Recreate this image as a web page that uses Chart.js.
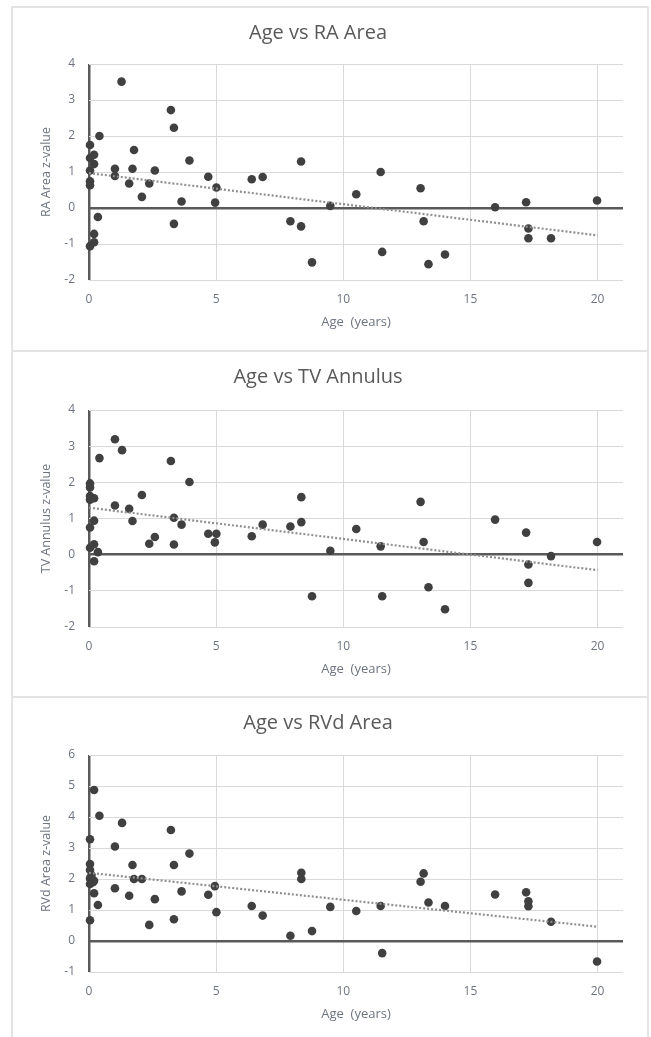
<!DOCTYPE html>
<html>
<head>
<meta charset="utf-8">
<script src="https://cdn.jsdelivr.net/npm/chart.js@4.4.0/dist/chart.umd.min.js"></script>
<style>
  body { margin: 0; background: #fff; width: 651px; height: 1037px; overflow: hidden; position: relative; }
  .panel { position: absolute; left: 11px; width: 638px; border: 2px solid #e4e4e4; box-sizing: border-box; background: #fff; }
  .panel canvas { display: block; }
</style>
</head>
<body>
<div class="panel" style="top:6px;height:346px"><canvas id="raChart" width="634" height="342"></canvas></div>
<div class="panel" style="top:350px;height:348px"><canvas id="tvChart" width="634" height="344"></canvas></div>
<div class="panel" style="top:696px;height:348px"><canvas id="rvdChart" width="634" height="344"></canvas></div>
<script>
//Age vs RA Area --> punti
const raAge = [0.04, 0.04, 0.04, 0.04, 0.04, 0.04, 0.2, 0.2, 0.2, 0.2, 0.35, 0.41, 1.02, 1.02, 1.28, 1.58, 1.71, 1.77, 2.08, 2.37, 2.59, 3.22, 3.34, 3.34, 3.64, 3.95, 4.69, 4.96, 5.01, 6.4, 6.83, 7.92, 8.34, 8.34, 8.77, 9.49, 10.51, 11.47, 11.53, 13.04, 13.16, 13.35, 14.0, 15.97, 17.19, 17.28, 17.28, 18.17, 19.98];
const raZ = [1.75, 1.39, 1.04, 0.74, 0.63, -1.06, 1.48, 1.22, -0.72, -0.95, -0.25, 2.0, 1.09, 0.89, 3.51, 0.68, 1.09, 1.61, 0.31, 0.68, 1.04, 2.72, 2.23, -0.44, 0.18, 1.32, 0.87, 0.15, 0.57, 0.8, 0.86, -0.37, 1.29, -0.51, -1.51, 0.06, 0.38, 1.0, -1.22, 0.55, -0.37, -1.56, -1.29, 0.02, 0.16, -0.57, -0.84, -0.84, 0.21];
const raTrend = [0.97, -0.76];

//Age vs TV Annulus
const tvAge = [0.04, 0.04, 0.04, 0.04, 0.04, 0.04, 0.2, 0.2, 0.2, 0.2, 0.35, 0.41, 1.02, 1.02, 1.3, 1.58, 1.71, 2.08, 2.37, 2.59, 3.22, 3.34, 3.34, 3.64, 3.95, 4.69, 4.95, 5.01, 6.4, 6.83, 7.92, 8.35, 8.35, 8.77, 9.49, 10.51, 11.47, 11.53, 13.04, 13.16, 13.35, 14.0, 15.97, 17.19, 17.28, 17.28, 18.17, 19.98];
const tvZ = [1.97, 1.86, 1.62, 1.52, 0.75, 0.19, 1.56, 0.94, 0.29, -0.18, 0.07, 2.67, 3.19, 1.36, 2.89, 1.27, 0.93, 1.65, 0.3, 0.49, 2.59, 1.02, 0.28, 0.83, 2.01, 0.58, 0.34, 0.58, 0.51, 0.83, 0.78, 1.59, 0.9, -1.15, 0.11, 0.71, 0.23, -1.15, 1.46, 0.35, -0.9, -1.51, 0.97, 0.61, -0.27, -0.78, -0.04, 0.35];
const tvTrend = [1.3, -0.43];

//Age vs RVd Area
const rvdAge = [0.04, 0.04, 0.04, 0.04, 0.04, 0.04, 0.1, 0.15, 0.2, 0.2, 0.2, 0.35, 0.41, 1.02, 1.02, 1.3, 1.58, 1.71, 1.77, 2.08, 2.37, 2.59, 3.22, 3.34, 3.34, 3.64, 3.95, 4.69, 4.95, 5.01, 6.4, 6.83, 7.92, 8.35, 8.35, 8.77, 9.49, 10.51, 11.47, 11.53, 13.04, 13.16, 13.35, 14.0, 15.97, 17.19, 17.28, 17.28, 18.17, 19.98];
const rvdZ = [3.28, 2.48, 2.29, 2.02, 1.84, 0.67, 2.13, 1.9, 4.87, 1.94, 1.54, 1.16, 4.04, 3.05, 1.7, 3.81, 1.46, 2.45, 2.0, 2.0, 0.52, 1.35, 3.58, 2.45, 0.7, 1.6, 2.82, 1.49, 1.77, 0.93, 1.13, 0.82, 0.17, 2.2, 2.0, 0.32, 1.1, 0.97, 1.13, -0.39, 1.91, 2.18, 1.24, 1.13, 1.5, 1.57, 1.28, 1.12, 0.62, -0.66];
const rvdTrend = [2.2, 0.46];

const trendAge = [0, 20];
const xTicks = [0, 5, 10, 15, 20];

const FONT = "'Open Sans', Lato, sans-serif";
const TEXT = "#6d7480";

function makeChart(id, title, yTitle, ages, zs, trend, yMin, yMax, top, bottom) {
  const canvas = document.getElementById(id);
  const H = canvas.height;
  const points = ages.map((a, i) => ({ x: a, y: zs[i] }));
  const line = trendAge.map((a, i) => ({ x: a, y: trend[i] }));
  const config = {
    type: "scatter",
    data: {
      datasets: [
        {
          label: "trend",
          type: "line",
          data: line,
          borderColor: "#8f8f8f",
          borderWidth: 2.2,
          borderDash: [2, 2],
          pointRadius: 0,
          fill: false,
          clip: false,
        },
        {
          label: "dati",
          data: points,
          backgroundColor: "#404040",
          borderWidth: 0,
          pointRadius: 4.3,
          clip: false,
        },
      ],
    },
    options: {
      responsive: false,
      animation: false,
      events: [],
      layout: { padding: { left: 0, right: 24, top: 0, bottom: 0 } },
      plugins: {
        legend: { display: false },
        tooltip: { enabled: false },
        title: {
          display: true,
          text: title,
          color: "#595959",
          font: { family: FONT, size: 20, weight: "normal" },
          padding: { top: 13, bottom: top - 13 - 24 },
        },
      },
      scales: {
        x: {
          type: "linear",
          min: 0,
          max: 21,
          border: { display: false },
          grid: {
            drawTicks: false,
            color: (c) => (c.tick && c.tick.value === 0 ? "#5a5a5a" : "#d9d9d9"),
            lineWidth: (c) => (c.tick && c.tick.value === 0 ? 2.5 : 1),
          },
          afterBuildTicks: (s) => { s.ticks = xTicks.map((v) => ({ value: v })); },
          ticks: { color: TEXT, font: { family: FONT, size: 12 }, padding: 12 },
          title: {
            display: true,
            text: "Age  (years)",
            color: TEXT,
            font: { family: FONT, size: 13 },
            padding: { top: 0, bottom: H - (bottom + 42) - 7.8 },
          },
          afterFit: (s) => { s.height = H - bottom; },
        },
        y: {
          min: yMin,
          max: yMax,
          border: { display: false },
          grid: {
            drawTicks: false,
            color: (c) => (c.tick && c.tick.value === 0 ? "#5a5a5a" : "#d9d9d9"),
            lineWidth: (c) => (c.tick && c.tick.value === 0 ? 2.5 : 1),
          },
          ticks: { stepSize: 1, color: TEXT, font: { family: FONT, size: 12 }, padding: 14 },
          title: {
            display: true,
            text: yTitle,
            color: TEXT,
            font: { family: FONT, size: 12.5 },
            padding: { top: 26, bottom: 0 },
          },
          afterFit: (s) => { s.width = 76; },
        },
      },
    },
  };
  return new Chart(canvas, config);
}

var raChart = makeChart("raChart", "Age vs RA Area", "RA Area z-value", raAge, raZ, raTrend, -2, 4, 56, 272);
var tvChart = makeChart("tvChart", "Age vs TV Annulus", "TV Annulus z-value", tvAge, tvZ, tvTrend, -2, 4, 58, 275);
var rvdChart = makeChart("rvdChart", "Age vs RVd Area", "RVd Area z-value", rvdAge, rvdZ, rvdTrend, -1, 6, 57, 274);
</script>
</body>
</html>
